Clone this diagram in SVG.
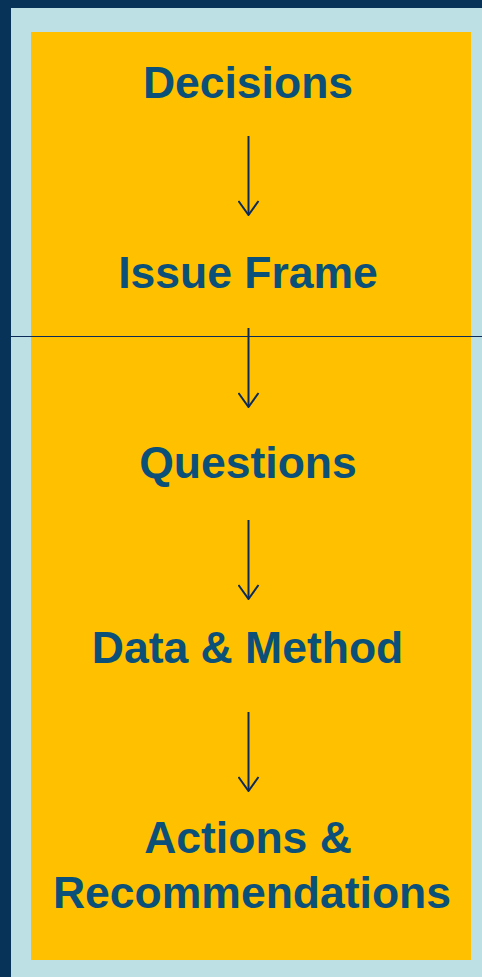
<svg xmlns="http://www.w3.org/2000/svg" width="482" height="977" viewBox="0 0 482 977">
  <style>
    .label { font-family: "Liberation Sans", Arial, sans-serif; font-weight: bold; font-size: 44.5px; fill: #0b5078; text-anchor: middle; }
    .conn { stroke: #0c2a5a; stroke-width: 2; fill: none; }
  </style>
  <defs>
    <!-- open V arrowhead, drawn along +x so orient="auto" points it down the line -->
    <marker id="head" viewBox="0 0 16 22" refX="15" refY="11" markerWidth="16" markerHeight="22" markerUnits="userSpaceOnUse" orient="auto">
      <path d="M1,1 L15,11 L1,21" fill="none" stroke="#0c2a5a" stroke-width="2"/>
    </marker>
  </defs>
  <!-- frame -->
  <rect x="0" y="0" width="482" height="977" fill="#063357"/>
  <rect x="11" y="8" width="471" height="969" fill="#bde0e5"/>
  <rect x="31" y="32" width="440" height="928" fill="#ffc000"/>
  <line x1="11" y1="336.5" x2="482" y2="336.5" stroke="#0c2a5a" stroke-width="1.2"/>

  <g id="connectors">
    <line class="conn" x1="248.5" y1="136" x2="248.5" y2="215" marker-end="url(#head)"/>
    <line class="conn" x1="248.5" y1="328" x2="248.5" y2="407" marker-end="url(#head)"/>
    <line class="conn" x1="248.5" y1="520" x2="248.5" y2="599" marker-end="url(#head)"/>
    <line class="conn" x1="248.5" y1="712" x2="248.5" y2="791" marker-end="url(#head)"/>
  </g>

  <g id="decisions"><text class="label" x="248" y="98">Decisions</text></g>
  <g id="issue-frame"><text class="label" x="248" y="288">Issue Frame</text></g>
  <g id="questions"><text class="label" x="248" y="478">Questions</text></g>
  <g id="data-method"><text class="label" x="247.5" y="663">Data &amp; Method</text></g>
  <g id="actions">
    <text class="label" x="248" y="853">Actions &amp;</text>
    <text class="label" x="252" y="908">Recommendations</text>
  </g>
</svg>
